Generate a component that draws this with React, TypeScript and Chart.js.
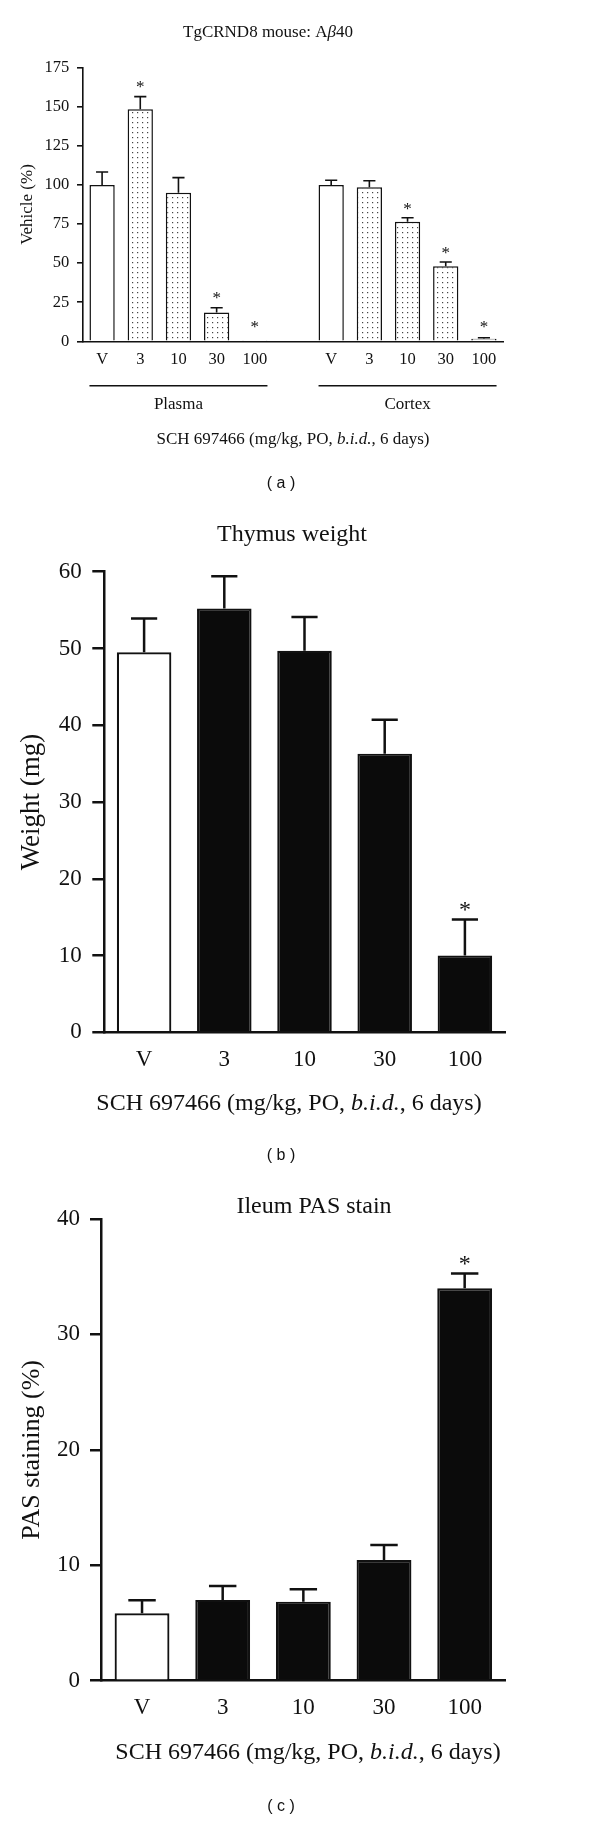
import React, { useEffect, useRef } from 'react';
import { Chart, registerables } from 'chart.js';

Chart.register(...registerables);

const SERIF = '"Liberation Serif", "Times New Roman", serif';
const SANS = '"Liberation Sans", Arial, sans-serif';
const INK = '#111111';

// ---------- Panel (a): TgCRND8 mouse Aβ40 ----------
const aCategories = ['V', '3', '10', '30', '100', '', 'V', '3', '10', '30', '100'];
const aMeans = [100, 148.4, 95, 18.5, 0.3, null, 100, 98.5, 76.5, 48, 1.7];
const aErrors = [8.3, 8.1, 9.7, 3, 0, null, 3, 4.2, 2.5, 2.7, 0.6];
const aSignificant = [false, true, false, true, true, false, false, false, true, true, true];
const aFill = ['open', 'dotted', 'dotted', 'dotted', 'dotted', 'open', 'open', 'dotted', 'dotted', 'dotted', 'dotted'];
const aYTicks = [0, 25, 50, 75, 100, 125, 150, 175];
const aGroupNames = ['Plasma', 'Cortex'];
const aGroupFirst = [0, 6];
const aGroupLast = [4, 10];

// ---------- Panel (b): Thymus weight ----------
const bCategories = ['V', '3', '10', '30', '100'];
const bMeans = [49.5, 55.2, 49.7, 36.3, 10.0];
const bErrors = [4.4, 4.2, 4.4, 4.4, 4.7];
const bSignificant = [false, false, false, false, true];
const bFill = ['open', 'solid', 'solid', 'solid', 'solid'];
const bYTicks = [0, 10, 20, 30, 40, 50, 60];

// ---------- Panel (c): Ileum PAS stain ----------
const cCategories = ['V', '3', '10', '30', '100'];
const cMeans = [5.84, 7.0, 6.85, 10.46, 34.0];
const cErrors = [1.13, 1.2, 1.07, 1.3, 1.27];
const cSignificant = [false, false, false, false, true];
const cFill = ['open', 'solid', 'solid', 'solid', 'solid'];
const cYTicks = [0, 10, 20, 30, 40];

const xTitleSegs = [
  { t: 'SCH 697466 (mg/kg, PO, ' },
  { t: 'b.i.d.', i: true },
  { t: ', 6 days)' },
];

type Seg = { t: string; i?: boolean };
type TextItem = { segs: Seg[]; x: number; y: number; size: number; family?: string };

type Spec = {
  key: string;
  top: number;
  height: number;
  categories: string[];
  means: (number | null)[];
  errors: (number | null)[];
  significant: boolean[];
  fill: string[];
  yTicks: number[];
  yTitle: string;
  area: { left: number; right: number; top: number; bottom: number };
  tickSize: number;
  yTitleSize: number;
  yTitlePad: number;
  tickLen: number;
  tickPad: number;
  xTickPad: number;
  axisW: number;
  barBorderW: number;
  errW: number;
  barPct: number;
  capRatio: number;
  starSize: number;
  starGap: number;
  starMinRise: number;
  texts: TextItem[];
  groups?: { names: string[]; first: number[]; last: number[]; lineY: number; labelY: number; size: number };
};

function drawRich(ctx: CanvasRenderingContext2D, item: TextItem) {
  const fam = item.family || SERIF;
  ctx.save();
  ctx.fillStyle = INK;
  ctx.textBaseline = 'middle';
  ctx.textAlign = 'left';
  const fontOf = (s: Seg) => `${s.i ? 'italic ' : ''}${item.size}px ${fam}`;
  const widths = item.segs.map((s) => {
    ctx.font = fontOf(s);
    return ctx.measureText(s.t).width;
  });
  const total = widths.reduce((a, b) => a + b, 0);
  let x = item.x - total / 2;
  item.segs.forEach((s, k) => {
    ctx.font = fontOf(s);
    ctx.fillText(s.t, x, item.y);
    x += widths[k];
  });
  ctx.restore();
}

function makePlugin(spec: Spec) {
  return {
    id: 'annot_' + spec.key,
    afterDraw(chart: any) {
      const ctx: CanvasRenderingContext2D = chart.ctx;
      const meta = chart.getDatasetMeta(0);
      const yScale = chart.scales.y;
      const base = yScale.getPixelForValue(0);
      ctx.save();
      ctx.strokeStyle = INK;
      ctx.lineWidth = spec.errW;
      meta.data.forEach((bar: any, i: number) => {
        const m = spec.means[i];
        const e = spec.errors[i];
        if (m == null) return;
        const { x, width } = bar.getProps(['x', 'width'], true);
        const yMean = yScale.getPixelForValue(m);
        let yTop = yMean;
        if (e) {
          yTop = yScale.getPixelForValue(m + e);
          const half = (width * spec.capRatio) / 2;
          ctx.beginPath();
          ctx.moveTo(x, yMean);
          ctx.lineTo(x, yTop);
          ctx.moveTo(x - half, yTop);
          ctx.lineTo(x + half, yTop);
          ctx.stroke();
        }
        if (spec.significant[i]) {
          const cy = Math.min(yTop - spec.starGap, base - spec.starMinRise);
          ctx.fillStyle = INK;
          ctx.font = `${spec.starSize}px ${SERIF}`;
          ctx.textAlign = 'center';
          ctx.textBaseline = 'alphabetic';
          ctx.fillText('*', x, cy + spec.starSize * 0.5);
        }
      });
      if (spec.groups) {
        const g = spec.groups;
        g.names.forEach((name, k) => {
          const b0 = meta.data[g.first[k]].getProps(['x', 'width'], true);
          const b1 = meta.data[g.last[k]].getProps(['x', 'width'], true);
          const x0 = b0.x - b0.width / 2;
          const x1 = b1.x + b1.width / 2;
          ctx.lineWidth = spec.axisW;
          ctx.beginPath();
          ctx.moveTo(x0, g.lineY);
          ctx.lineTo(x1, g.lineY);
          ctx.stroke();
          drawRich(ctx, { segs: [{ t: name }], x: (x0 + x1) / 2, y: g.labelY, size: g.size });
        });
      }
      ctx.restore();
      spec.texts.forEach((t) => drawRich(ctx, t));
    },
  };
}

function makeDots(): CanvasPattern | string {
  const c = document.createElement('canvas');
  c.width = 5;
  c.height = 5;
  const x = c.getContext('2d');
  if (!x) return '#dddddd';
  x.fillStyle = '#ffffff';
  x.fillRect(0, 0, 5, 5);
  x.fillStyle = '#444444';
  x.fillRect(2, 2, 1.2, 1.2);
  return x.createPattern(c, 'repeat') || '#dddddd';
}

function Panel({ spec }: { spec: Spec }) {
  const ref = useRef<HTMLCanvasElement | null>(null);
  useEffect(() => {
    if (!ref.current) return;
    const dots = makeDots();
    const fills = spec.fill.map((f) => (f === 'solid' ? '#0b0b0b' : f === 'dotted' ? dots : '#ffffff'));
    const a = spec.area;
    const chart = new Chart(ref.current, {
      type: 'bar',
      data: {
        labels: spec.categories,
        datasets: [
          {
            data: spec.means as any,
            backgroundColor: fills as any,
            borderColor: INK,
            borderWidth: spec.barBorderW,
            borderSkipped: 'start',
            categoryPercentage: 1,
            barPercentage: spec.barPct,
          },
        ],
      },
      options: {
        responsive: false,
        animation: false,
        devicePixelRatio: 1,
        layout: { padding: { left: 0, top: a.top, right: 600 - a.right, bottom: 0 } },
        plugins: { legend: { display: false }, tooltip: { enabled: false }, title: { display: false } },
        scales: {
          x: {
            offset: true,
            grid: { display: false, drawTicks: false },
            border: { display: true, color: INK, width: spec.axisW },
            ticks: {
              color: INK,
              font: { family: SERIF, size: spec.tickSize },
              padding: spec.xTickPad,
              maxRotation: 0,
              autoSkip: false,
            },
            afterFit: (s: any) => {
              s.height = spec.height - a.bottom;
            },
          },
          y: {
            min: spec.yTicks[0],
            max: spec.yTicks[spec.yTicks.length - 1],
            grid: {
              display: true,
              drawOnChartArea: false,
              drawTicks: true,
              tickLength: spec.tickLen,
              color: INK,
              lineWidth: spec.axisW,
            },
            border: { display: true, color: INK, width: spec.axisW },
            ticks: { color: INK, font: { family: SERIF, size: spec.tickSize }, padding: spec.tickPad },
            title: {
              display: true,
              text: spec.yTitle,
              color: INK,
              font: { family: SERIF, size: spec.yTitleSize },
              padding: { top: spec.yTitlePad, bottom: 0 },
            },
            afterBuildTicks: (s: any) => {
              s.ticks = spec.yTicks.map((v) => ({ value: v }));
            },
            afterFit: (s: any) => {
              s.width = a.left;
            },
          },
        },
      } as any,
      plugins: [makePlugin(spec)],
    });
    return () => chart.destroy();
  }, [spec]);
  return (
    <canvas
      ref={ref}
      width={600}
      height={spec.height}
      style={{ position: 'absolute', left: 0, top: spec.top, width: 600, height: spec.height, display: 'block' }}
    />
  );
}

const specA: Spec = {
  key: 'a',
  top: 0,
  height: 500,
  categories: aCategories,
  means: aMeans,
  errors: aErrors,
  significant: aSignificant,
  fill: aFill,
  yTicks: aYTicks,
  yTitle: 'Vehicle (%)',
  area: { left: 83, right: 503, top: 67.7, bottom: 341.3 },
  tickSize: 16.5,
  yTitleSize: 17,
  yTitlePad: 17.1,
  tickLen: 6,
  tickPad: 7.7,
  xTickPad: 8.8,
  axisW: 1.6,
  barBorderW: 1.5,
  errW: 1.6,
  barPct: 0.662,
  capRatio: 0.48,
  starSize: 17,
  starGap: 12.7,
  starMinRise: 18,
  texts: [
    { segs: [{ t: 'TgCRND8 mouse: A' }, { t: 'β', i: true }, { t: '40' }], x: 268, y: 33, size: 17 },
    { segs: xTitleSegs, x: 293, y: 440, size: 17 },
    { segs: [{ t: '( a )' }], x: 281, y: 484, size: 16, family: SANS },
  ],
  groups: { names: aGroupNames, first: aGroupFirst, last: aGroupLast, lineY: 385.7, labelY: 405, size: 17 },
};

const specB: Spec = {
  key: 'b',
  top: 500,
  height: 680,
  categories: bCategories,
  means: bMeans,
  errors: bErrors,
  significant: bSignificant,
  fill: bFill,
  yTicks: bYTicks,
  yTitle: 'Weight (mg)',
  area: { left: 104, right: 505, top: 71.7, bottom: 532.3 },
  tickSize: 23,
  yTitleSize: 27,
  yTitlePad: 16,
  tickLen: 11.7,
  tickPad: 10.6,
  xTickPad: 13.9,
  axisW: 2.5,
  barBorderW: 2.2,
  errW: 2.5,
  barPct: 0.68,
  capRatio: 0.48,
  starSize: 24,
  starGap: 14.3,
  starMinRise: 0,
  texts: [
    { segs: [{ t: 'Thymus weight' }], x: 292, y: 35, size: 24 },
    { segs: xTitleSegs, x: 289, y: 603.3, size: 24 },
    { segs: [{ t: '( b )' }], x: 281, y: 656, size: 16, family: SANS },
  ],
};

const specC: Spec = {
  key: 'c',
  top: 1180,
  height: 642,
  categories: cCategories,
  means: cMeans,
  errors: cErrors,
  significant: cSignificant,
  fill: cFill,
  yTicks: cYTicks,
  yTitle: 'PAS staining (%)',
  area: { left: 101.7, right: 505, top: 39, bottom: 500.7 },
  tickSize: 23,
  yTitleSize: 26,
  yTitlePad: 16.4,
  tickLen: 11.7,
  tickPad: 10,
  xTickPad: 13.5,
  axisW: 2.5,
  barBorderW: 2.2,
  errW: 2.5,
  barPct: 0.68,
  capRatio: 0.5,
  starSize: 24,
  starGap: 14.7,
  starMinRise: 0,
  texts: [
    { segs: [{ t: 'Ileum PAS stain' }], x: 314, y: 27, size: 24 },
    { segs: xTitleSegs, x: 308, y: 573, size: 24 },
    { segs: [{ t: '( c )' }], x: 281, y: 627, size: 16, family: SANS },
  ],
};

export default function App() {
  return (
    <div style={{ position: 'absolute', left: 0, top: 0, width: 600, height: 1822, background: '#ffffff', overflow: 'hidden' }}>
      <Panel spec={specA} />
      <Panel spec={specB} />
      <Panel spec={specC} />
    </div>
  );
}
